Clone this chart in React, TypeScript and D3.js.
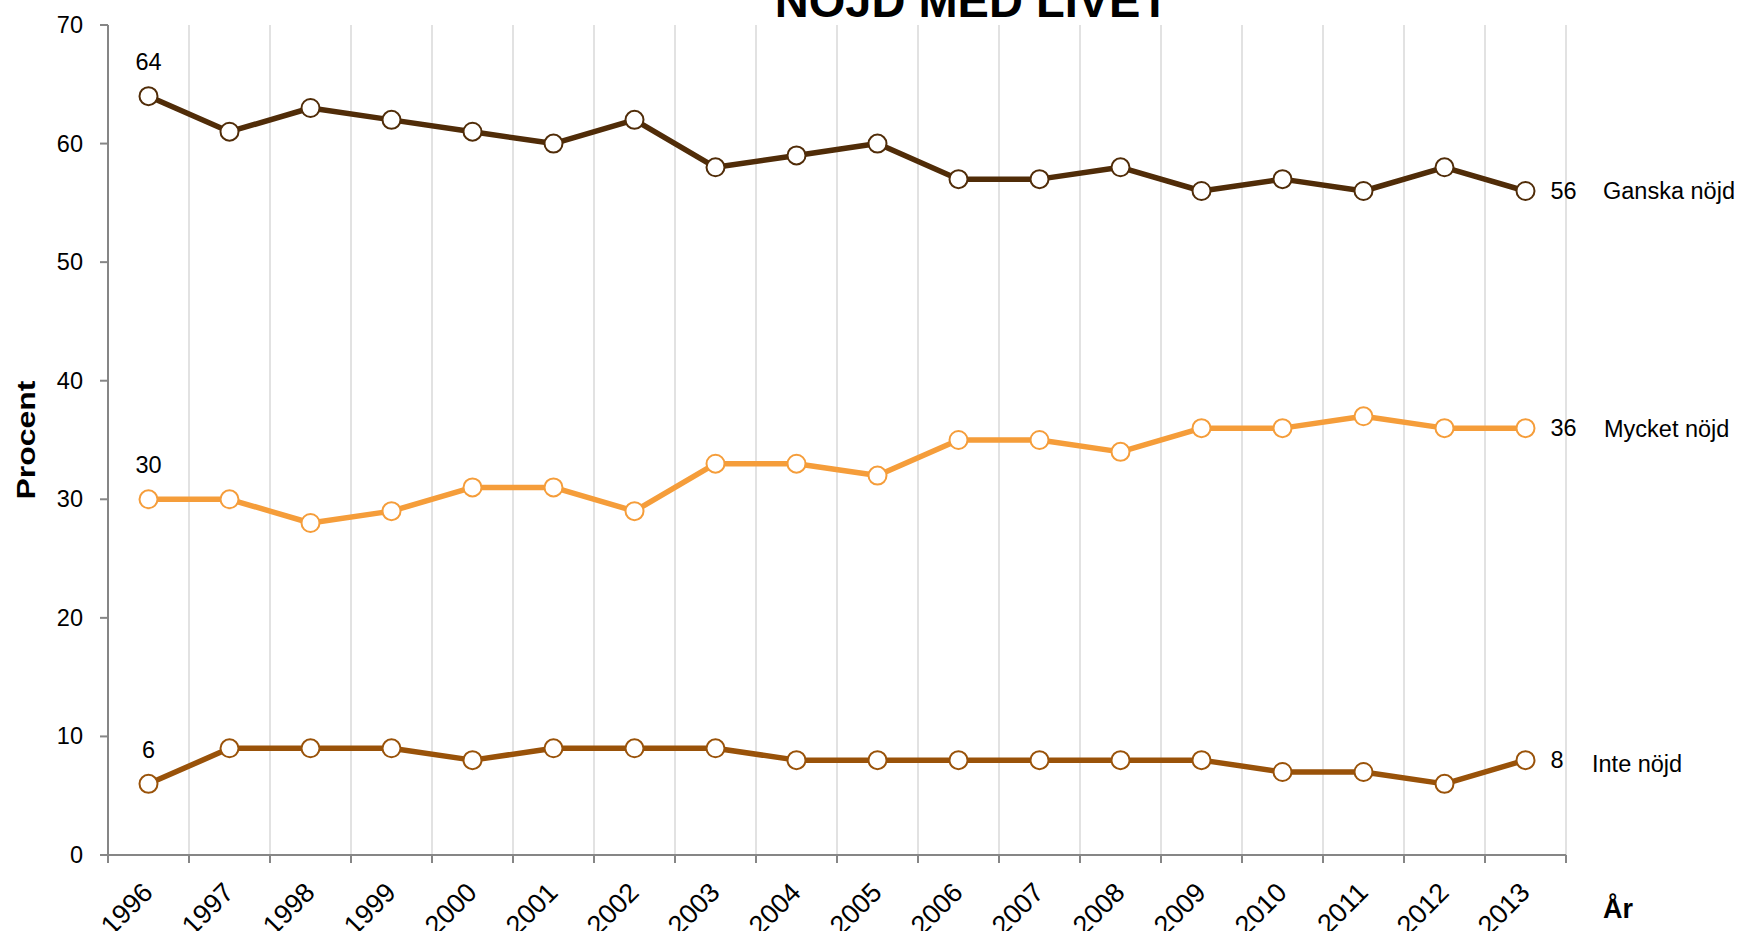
import React from "react";
import * as d3 from "d3";

// values
const years = ["1996", "1997", "1998", "1999", "2000", "2001", "2002", "2003", "2004", "2005", "2006", "2007", "2008", "2009", "2010", "2011", "2012", "2013"];
const ganskaNojd = [64, 61, 63, 62, 61, 60, 62, 58, 59, 60, 57, 57, 58, 56, 57, 56, 58, 56];
const mycketNojd = [30, 30, 28, 29, 31, 31, 29, 33, 33, 32, 35, 35, 34, 36, 36, 37, 36, 36];
const inteNojd = [6, 9, 9, 9, 8, 9, 9, 9, 8, 8, 8, 8, 8, 8, 7, 7, 6, 8];
const yTicks = [0, 10, 20, 30, 40, 50, 60, 70];

const series = [
  { name: "Ganska nöjd", values: ganskaNojd, color: "#502c08", nameX: 1603, nameDy: 8 },
  { name: "Mycket nöjd", values: mycketNojd, color: "#f59d3a", nameX: 1604, nameDy: 9 },
  { name: "Inte nöjd", values: inteNojd, color: "#995209", nameX: 1592, nameDy: 12 },
];

const W = 1742;
const H = 931;
const left = 108, right = 1566, top = 25, bottom = 855;
const font = "Liberation Sans, Arial, sans-serif";

export default function App() {
  const x = d3.scaleBand().domain(years).range([left, right]).padding(0);
  const y = d3.scaleLinear().domain([0, 70]).range([bottom, top]);
  const cx = (yr: string) => (x(yr) as number) + x.bandwidth() / 2;

  const line = d3.line<number>()
    .x((_, i) => cx(years[i]))
    .y((d) => y(d));

  // band edges for grid + x ticks
  const edges = years.map((yr) => x(yr) as number).concat([right]);

  return (
    <svg width={W} height={H} style={{ position: "absolute", left: 0, top: 0, background: "#fff" }} fontFamily={font}>
      {/* vertical grid */}
      {edges.slice(1).map((e, i) => (
        <line key={"g" + i} x1={e} x2={e} y1={top} y2={bottom} stroke="#d9d9d9" strokeWidth={1.5} />
      ))}

      {/* axes */}
      <line x1={left} x2={left} y1={top} y2={bottom} stroke="#868686" strokeWidth={2} />
      <line x1={left} x2={right} y1={bottom} y2={bottom} stroke="#868686" strokeWidth={2} />
      {yTicks.map((t) => (
        <g key={"yt" + t}>
          <line x1={left - 8} x2={left} y1={y(t)} y2={y(t)} stroke="#868686" strokeWidth={2} />
          <text x={83} y={y(t) + 8} textAnchor="end" fontSize={23.5} fill="#000">{t}</text>
        </g>
      ))}
      {edges.map((e, i) => (
        <line key={"xt" + i} x1={e} x2={e} y1={bottom} y2={bottom + 8} stroke="#868686" strokeWidth={2} />
      ))}
      {years.map((yr) => (
        <text key={"xl" + yr} transform={`translate(${cx(yr) + 6},${bottom + 39}) rotate(-45)`} textAnchor="end" fontSize={27} fill="#000">{yr}</text>
      ))}

      {/* series */}
      {series.map((s) => (
        <g key={s.name}>
          <path d={line(s.values) as string} fill="none" stroke={s.color} strokeWidth={5.5} strokeLinejoin="round" />
          {s.values.map((v, i) => (
            <circle key={i} cx={cx(years[i])} cy={y(v)} r={9} fill="#fff" stroke={s.color} strokeWidth={2} />
          ))}
          <text x={cx(years[0])} y={y(s.values[0]) - 26} textAnchor="middle" fontSize={23.5} fill="#000">{s.values[0]}</text>
          <text x={cx(years[years.length - 1]) + 25} y={y(s.values[s.values.length - 1]) + 8} fontSize={23.5} fill="#000">{s.values[s.values.length - 1]}</text>
          <text x={s.nameX} y={y(s.values[s.values.length - 1]) + s.nameDy} fontSize={23.5} fill="#000">{s.name}</text>
        </g>
      ))}

      {/* titles */}
      <text x={972} y={17} textAnchor="middle" fontSize={47} fontWeight="bold" fill="#000">NÖJD MED LIVET</text>
      <text transform={`translate(35,${(top + bottom) / 2}) rotate(-90)`} textAnchor="middle" fontSize={26} fontWeight="bold" textLength={119} lengthAdjust="spacingAndGlyphs" fill="#000">Procent</text>
      <text x={1603} y={918} fontSize={27} fontWeight="bold" fill="#000">År</text>
    </svg>
  );
}
